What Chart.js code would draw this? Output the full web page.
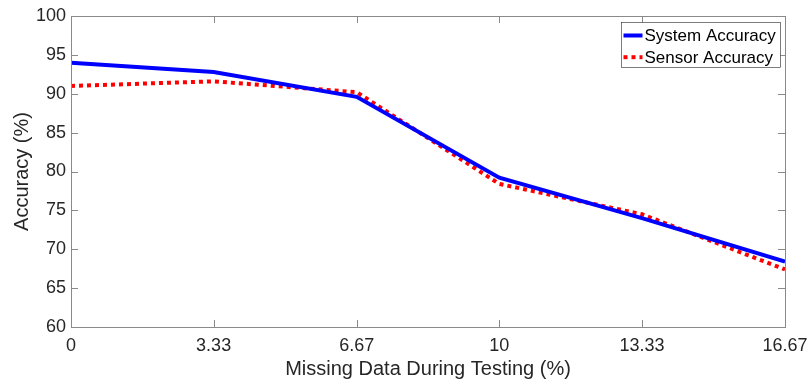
<!DOCTYPE html>
<html><head><meta charset="utf-8">
<script src="https://cdn.jsdelivr.net/npm/chart.js@4/dist/chart.umd.min.js"></script>
<style>html,body{margin:0;padding:0;background:#fff;}#wrap{width:809px;height:382px;}</style>
</head><body><div id="wrap"><canvas id="c" width="809" height="382"></canvas></div>
<script>
const missingPct = [0, 3.33, 6.67, 10, 13.33, 16.67];
const xTickLabels = ['0', '3.33', '6.67', '10', '13.33', '16.67'];
const yTickValues = [60, 65, 70, 75, 80, 85, 90, 95, 100];
const systemAccuracy = [94.0, 92.8, 89.6, 79.2, 74.0, 68.4];
const sensorAccuracy = [91.0, 91.6, 90.2, 78.4, 74.5, 67.4];
const seriesNames = ['System Accuracy', 'Sensor Accuracy'];

const FONT = "'Liberation Sans', Arial, sans-serif";
const TXT = '#262626';
const AX = '#8a8a8a';

const boxPlugin = {
  id: 'boxTicks',
  afterDraw(chart) {
    const {ctx, chartArea: a, scales} = chart;
    ctx.save();
    ctx.strokeStyle = AX; ctx.lineWidth = 1;
    ctx.strokeRect(Math.round(a.left) + 0.5, Math.round(a.top) + 0.5, Math.round(a.right - a.left), Math.round(a.bottom - a.top));
    const L = 7;
    ctx.beginPath();
    scales.x.ticks.forEach(t => {
      const px = Math.round(scales.x.getPixelForValue(t.value)) + 0.5;
      ctx.moveTo(px, a.bottom); ctx.lineTo(px, a.bottom - L);
      ctx.moveTo(px, a.top); ctx.lineTo(px, a.top + L);
    });
    scales.y.ticks.forEach(t => {
      const py = Math.round(scales.y.getPixelForValue(t.value)) + 0.5;
      ctx.moveTo(a.left, py); ctx.lineTo(a.left + L, py);
      ctx.moveTo(a.right, py); ctx.lineTo(a.right - L, py);
    });
    ctx.stroke();
    // legend
    const w = 159, h = 45;
    const x0 = Math.round(a.right - 5 - w) + 0.5, y0 = Math.round(a.top + 6) + 0.5;
    ctx.fillStyle = '#fff';
    ctx.fillRect(x0, y0, w, h);
    ctx.strokeStyle = '#262626'; ctx.lineWidth = 0.6;
    ctx.strokeRect(x0, y0, w, h);
    ctx.font = '17px ' + FONT;
    ctx.fillStyle = '#000';
    ctx.textBaseline = 'middle';
    chart.data.datasets.forEach((ds, i) => {
      const cy = y0 + 13 + i * 21.7;
      ctx.save();
      ctx.strokeStyle = ds.borderColor; ctx.lineWidth = ds.borderWidth;
      ctx.setLineDash(ds.borderDash || []);
      ctx.beginPath(); ctx.moveTo(x0 + 2, cy); ctx.lineTo(x0 + 21, cy); ctx.stroke();
      ctx.restore();
      ctx.fillText(ds.label, x0 + 23, cy + 1);
    });
    ctx.restore();
  }
};

new Chart(document.getElementById('c'), {
  type: 'line',
  data: {
    datasets: [
      { label: seriesNames[0], data: missingPct.map((x, i) => ({x, y: systemAccuracy[i]})),
        borderColor: '#0000ff', borderWidth: 4, pointRadius: 0, tension: 0, fill: false },
      { label: seriesNames[1], data: missingPct.map((x, i) => ({x, y: sensorAccuracy[i]})),
        borderColor: '#ff0000', borderWidth: 4, borderDash: [4, 4], borderCapStyle: 'butt', pointRadius: 0, tension: 0, fill: false }
    ]
  },
  options: {
    responsive: false, animation: false, devicePixelRatio: 1,
    layout: { padding: { top: 16, right: 24, left: 0, bottom: 0 } },
    plugins: { legend: { display: false }, tooltip: { enabled: false } },
    scales: {
      x: {
        type: 'linear', min: 0, max: 16.67,
        afterBuildTicks(s) { s.ticks = missingPct.map(v => ({value: v})); },
        afterFit(s) { s.height = 55; s.paddingLeft = 0; s.paddingRight = 0; },
        grid: { display: false, drawTicks: false },
        border: { display: false },
        ticks: { color: TXT, font: { family: FONT, size: 18 }, padding: 8, maxRotation: 0, autoSkip: false,
          callback: (v, i) => xTickLabels[i] },
        title: { display: true, text: 'Missing Data During Testing (%)', color: TXT, font: { family: FONT, size: 20 }, padding: { top: 0, bottom: 1 } }
      },
      y: {
        min: 60, max: 100,
        afterBuildTicks(s) { s.ticks = yTickValues.map(v => ({value: v})); },
        afterFit(s) { s.width = 71; s.paddingTop = 0; s.paddingBottom = 0; },
        grid: { display: false, drawTicks: false },
        border: { display: false },
        ticks: { color: TXT, font: { family: FONT, size: 18 }, padding: 5 },
        title: { display: true, text: 'Accuracy (%)', color: TXT, font: { family: FONT, size: 20 }, padding: { top: 10, bottom: 0 } }
      }
    }
  },
  plugins: [boxPlugin]
});
</script></body></html>
